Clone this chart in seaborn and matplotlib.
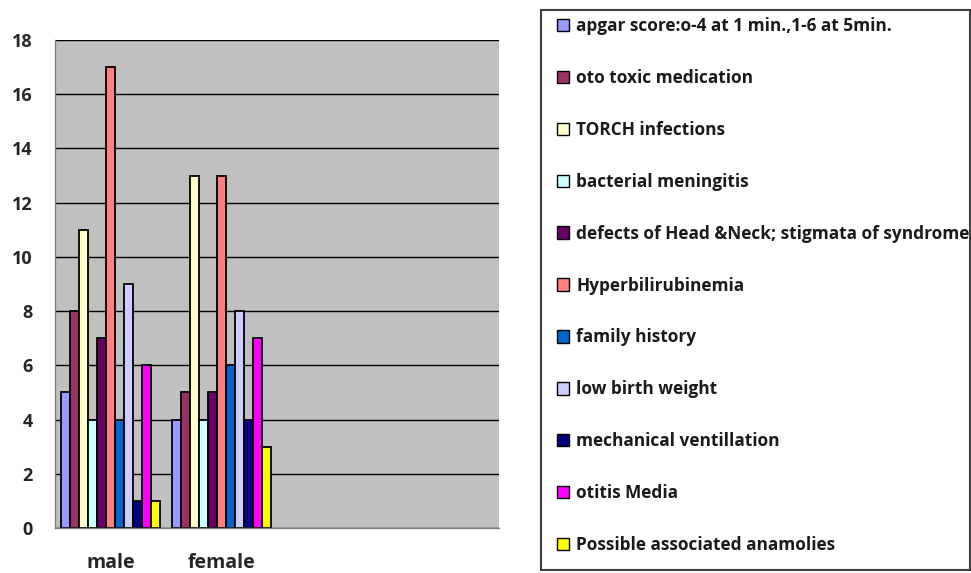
import matplotlib
matplotlib.use("Agg")
import matplotlib.pyplot as plt
import seaborn as sns
import pandas as pd
import numpy as np
from matplotlib.patches import Rectangle

genders = ["male", "female"]
factors = [
    "apgar score:o-4 at 1 min.,1-6 at 5min.",
    "oto toxic medication",
    "TORCH infections",
    "bacterial meningitis",
    "defects of Head &Neck; stigmata of syndrome",
    "Hyperbilirubinemia",
    "family history",
    "low birth weight",
    "mechanical ventillation",
    "otitis Media",
    "Possible associated anamolies",
]
male_values = [5, 8, 11, 4, 7, 17, 4, 9, 1, 6, 1]
female_values = [4, 5, 13, 4, 5, 13, 6, 8, 4, 7, 3]
colors = ["#9999FF", "#993366", "#FFFFCC", "#CCFFFF", "#660066", "#FF8080",
          "#0066CC", "#CCCCFF", "#000080", "#FF00FF", "#FFFF00"]

rows = []
for f, m, fe in zip(factors, male_values, female_values):
    rows.append({"gender": "male", "factor": f, "count": m})
    rows.append({"gender": "female", "factor": f, "count": fe})
df = pd.DataFrame(rows)

sns.set_style("white")
plt.rcParams["font.family"] = ["Open Sans", "DejaVu Sans"]

fig = plt.figure(figsize=(9.71, 5.73), dpi=100)
ax = fig.add_axes([55/971, 1-528/573, (499-55)/971, (528-40)/573])
ax.set_facecolor("#C0C0C0")

sns.barplot(data=df, x="gender", y="count", hue="factor", order=genders,
            hue_order=factors, palette=colors, width=0.9, gap=0,
            edgecolor="black", linewidth=1.3, ax=ax, saturation=1, legend=True)

handles, labels = ax.get_legend_handles_labels()
ax.legend_.remove()

ax.set_xlim(-0.5, 3.5)
ax.set_ylim(0, 18)
ax.set_yticks(np.arange(0, 19, 2))
ax.yaxis.grid(True, color="black", linewidth=1)
ax.set_axisbelow(True)
ax.set_xlabel("")
ax.set_ylabel("")

ax.set_xticks([0, 1])
ax.set_xticklabels(genders, fontsize=14, fontweight="bold")
ax.set_xticks(np.arange(-0.5, 3.6, 1), minor=True)
ax.tick_params(axis="x", which="major", length=0, pad=18)
ax.tick_params(axis="x", which="minor", length=7, width=1, color="#808080", direction="out")
ax.tick_params(axis="y", length=6, width=1, color="#808080", direction="out", pad=10,
               labelsize=13)
for lab in ax.get_yticklabels():
    lab.set_fontweight("bold")

for side in ["top", "right"]:
    ax.spines[side].set_visible(False)
for side in ["left", "bottom"]:
    ax.spines[side].set_color("#808080")
    ax.spines[side].set_linewidth(1)

fig.patches.append(Rectangle((541/971, 1-570/573), (970-541)/971, 560/573,
                             transform=fig.transFigure, fill=False,
                             edgecolor="#404040", linewidth=1.5))

leg = fig.legend(handles, labels, loc="upper left",
                 bbox_to_anchor=(550/971, 1-10/573), frameon=False,
                 prop={"size": 12.4, "weight": "bold"}, labelspacing=1.97,
                 handlelength=0.72, handleheight=0.72, handletextpad=0.4,
                 borderaxespad=0)
for h in leg.legend_handles:
    h.set_edgecolor("black")
    h.set_linewidth(1)
for t in leg.get_texts():
    t.set_color("#1a1a1a")

fig.savefig("out.png", dpi=100)
